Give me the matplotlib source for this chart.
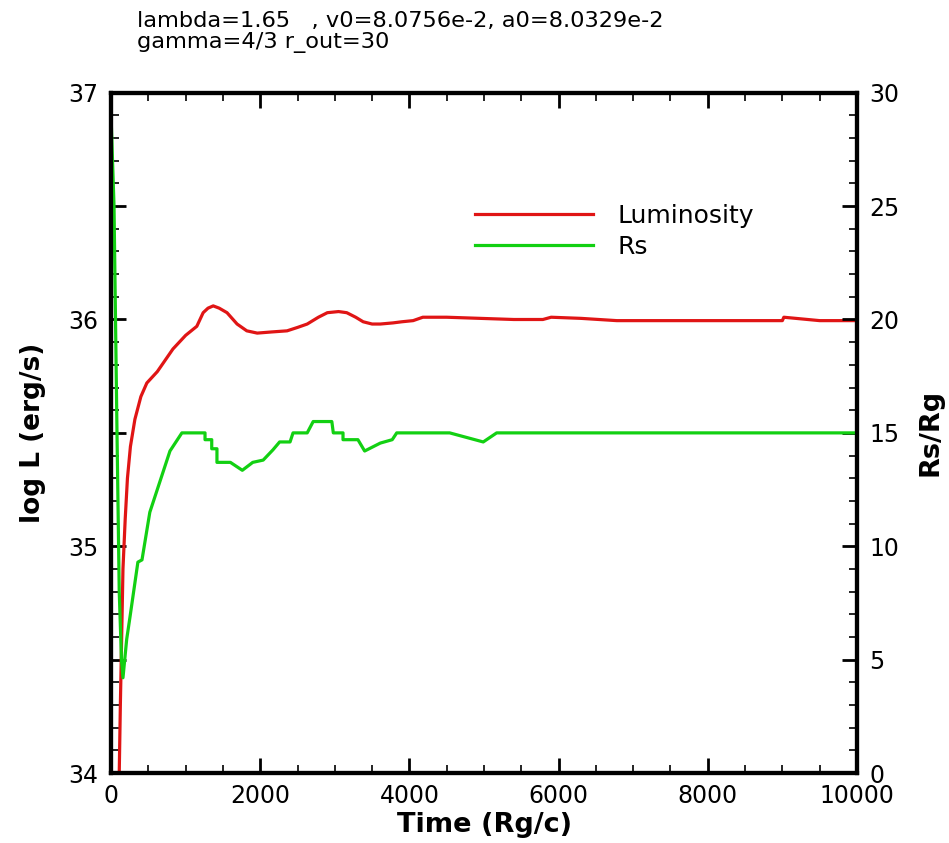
import matplotlib
matplotlib.use('Agg')
from matplotlib import pyplot as plt
from matplotlib.ticker import MultipleLocator, FuncFormatter

plt.rcParams['font.family'] = ['DejaVu Sans']

# luminosity, log L (erg/s) vs time (Rg/c)
t_lum = [100, 125, 160, 190, 220, 260, 320, 400, 480, 620, 830, 1000, 1150, 1235,
         1300, 1370, 1450, 1555, 1690, 1820, 1960, 2150, 2360, 2500, 2630, 2780,
         2900, 3050, 3160, 3280, 3380, 3500, 3610, 3780, 3900, 4050, 4180, 4500,
         4950, 5400, 5790, 5900, 6300, 6780, 7500, 8500, 9000, 9020, 9500, 10000]
log_lum = [33.8, 34.3, 34.9, 35.12, 35.3, 35.44, 35.56, 35.66, 35.72, 35.77, 35.87,
           35.93, 35.97, 36.03, 36.05, 36.06, 36.05, 36.03, 35.98, 35.95, 35.94,
           35.945, 35.95, 35.965, 35.98, 36.01, 36.03, 36.035, 36.03, 36.01, 35.99,
           35.98, 35.98, 35.985, 35.99, 35.995, 36.01, 36.01, 36.005, 36.0, 36.0,
           36.01, 36.005, 35.995, 35.995, 35.995, 35.995, 36.01, 35.995, 35.995]

# shock location Rs/Rg vs time (Rg/c)
t_rs = [0, 40, 80, 110, 140, 160, 210, 255, 360, 415, 520, 660, 790, 950, 1260,
        1260, 1350, 1350, 1420, 1420, 1600, 1760, 1900, 2040, 2170, 2260, 2400,
        2440, 2630, 2710, 2960, 2980, 3110, 3110, 3310, 3400, 3610, 3770, 3830,
        4540, 4990, 5170, 10000]
rs = [29, 25, 15, 8, 5, 4.2, 5.9, 6.9, 9.3, 9.4, 11.5, 12.9, 14.2, 15.0, 15.0,
      14.7, 14.7, 14.3, 14.3, 13.7, 13.7, 13.35, 13.7, 13.8, 14.25, 14.6, 14.6,
      15.0, 15.0, 15.5, 15.5, 15.0, 15.0, 14.7, 14.7, 14.2, 14.55, 14.7, 15.0,
      15.0, 14.6, 15.0, 15.0]

fig = plt.figure(figsize=(9.49, 8.43), dpi=100)
ax = fig.add_axes([0.117, 0.083, 0.786, 0.807])
ax2 = ax.twinx()

l1, = ax.plot(t_lum, log_lum, color='#e01515', lw=2.3, label='Luminosity')
l2, = ax2.plot(t_rs, rs, color='#12d012', lw=2.3, label='Rs')

ax.set_xlim(0, 10000)
ax.set_ylim(34, 37)
ax2.set_ylim(0, 30)

ax.xaxis.set_major_locator(MultipleLocator(2000))
ax.xaxis.set_minor_locator(MultipleLocator(500))
ax.yaxis.set_major_locator(MultipleLocator(0.5))
ax.yaxis.set_minor_locator(MultipleLocator(0.1))
ax.yaxis.set_major_formatter(FuncFormatter(lambda v, p: '%d' % v if abs(v - round(v)) < 1e-6 else ''))
ax2.yaxis.set_major_locator(MultipleLocator(5))
ax2.yaxis.set_minor_locator(MultipleLocator(1))

ax.tick_params(axis='x', which='both', direction='in', top=True, labelsize=17, pad=8)
ax.tick_params(axis='y', which='both', direction='in', labelsize=17, pad=9)
ax2.tick_params(axis='y', which='both', direction='in', labelsize=17, pad=9)
for a in (ax, ax2):
    a.tick_params(which='major', length=11, width=2)
    a.tick_params(which='minor', length=6, width=1.2)
    for s in a.spines.values():
        s.set_linewidth(3)

fig.text(0.511, 0.021, 'Time (Rg/c)', ha='center', va='center', fontsize=19.5, fontweight='bold')
fig.text(0.035, 0.486, 'log L (erg/s)', ha='center', va='center', rotation=90, fontsize=19, fontweight='bold')
fig.text(0.981, 0.487, 'Rs/Rg', ha='center', va='center', rotation=90, fontsize=19.5, fontweight='bold')

fig.text(0.144, 0.975, 'lambda=1.65   , v0=8.0756e-2, a0=8.0329e-2', ha='left', va='center', fontsize=16.2)
fig.text(0.144, 0.950, 'gamma=4/3 r_out=30', ha='left', va='center', fontsize=16.2)

ax2.legend([l1, l2], ['Luminosity', 'Rs'], loc='upper left', bbox_to_anchor=(0.488, 0.837),
           frameon=False, fontsize=18, handlelength=4.7, handletextpad=1.0, labelspacing=0.3,
           borderpad=0, borderaxespad=0)

fig.savefig('out.png', dpi=100)
